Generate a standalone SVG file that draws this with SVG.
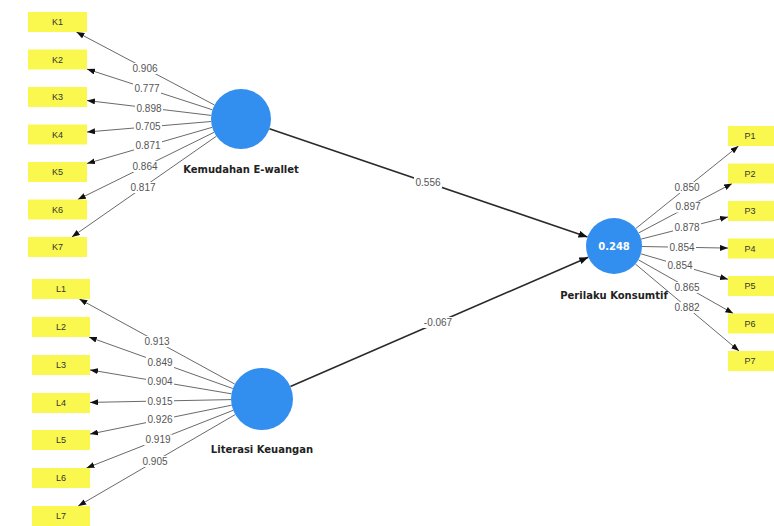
<svg xmlns="http://www.w3.org/2000/svg" width="774" height="526" viewBox="0 0 774 526">
<defs>
<marker id="ah" viewBox="0 0 8 6" refX="8" refY="3" markerWidth="8" markerHeight="6" markerUnits="userSpaceOnUse" orient="auto">
<path d="M0,0 L8,3 L0,6 Z" fill="#111"/>
</marker>
<marker id="ah2" viewBox="0 0 9 7" refX="9" refY="3.5" markerWidth="9" markerHeight="7" markerUnits="userSpaceOnUse" orient="auto">
<path d="M0,0 L9,3.5 L0,7 Z" fill="#111"/>
</marker>
</defs>
<style>
.ind{fill:#FAF84E;}
.indt{font-family:"Liberation Sans",Arial,sans-serif;font-size:9px;fill:#333;text-anchor:middle;}
.lv{fill:#338FEF;}
.lvt{font-family:"DejaVu Sans",Verdana,sans-serif;font-size:10px;font-weight:bold;fill:#222;text-anchor:middle;}
.r2{font-family:"DejaVu Sans",Verdana,sans-serif;font-size:10px;font-weight:bold;fill:#fff;text-anchor:middle;}
.ld{stroke:#6a6a6a;stroke-width:1;fill:none;marker-end:url(#ah);}
.pc{stroke:#2a2a2a;stroke-width:1.6;fill:none;marker-end:url(#ah2);}
.bg{fill:#fff;}
.lt{font-family:"Liberation Sans",Arial,sans-serif;font-size:10px;fill:#555;text-anchor:middle;}
</style>
<rect width="774" height="526" fill="#fff"/>

<g id="connectors">
<line class="ld" x1="214.5" y1="105" x2="76.4" y2="32"/>
<line class="ld" x1="212.5" y1="109.8" x2="87" y2="69.1"/>
<line class="ld" x1="211.2" y1="115.4" x2="87" y2="100.5"/>
<line class="ld" x1="211.1" y1="121.5" x2="87" y2="132"/>
<line class="ld" x1="212.2" y1="127.3" x2="87" y2="163.5"/>
<line class="ld" x1="214.1" y1="132.3" x2="77.8" y2="199.5"/>
<line class="ld" x1="216.4" y1="136.2" x2="71.8" y2="237"/>

<line class="ld" x1="234.8" y1="384.1" x2="79.3" y2="299"/>
<line class="ld" x1="232.8" y1="388.5" x2="88.9" y2="337"/>
<line class="ld" x1="231.4" y1="393.8" x2="90" y2="369.9"/>
<line class="ld" x1="231" y1="399.6" x2="90" y2="402.4"/>
<line class="ld" x1="231.6" y1="405.2" x2="90" y2="434.1"/>
<line class="ld" x1="233.2" y1="410.3" x2="86.5" y2="468"/>
<line class="ld" x1="235.2" y1="414.6" x2="78.2" y2="506"/>

<line class="ld" x1="635.8" y1="228.5" x2="738.5" y2="146"/>
<line class="ld" x1="638.7" y1="232.9" x2="732.1" y2="183.5"/>
<line class="ld" x1="641.1" y1="239.1" x2="728" y2="216.9"/>
<line class="ld" x1="642" y1="246.5" x2="728" y2="248.1"/>
<line class="ld" x1="640.9" y1="253.8" x2="728" y2="279.3"/>
<line class="ld" x1="638.4" y1="259.8" x2="733.3" y2="313.5"/>
<line class="ld" x1="635.4" y1="264" x2="739.1" y2="351"/>

<line class="pc" x1="269.4" y1="128.7" x2="587.5" y2="237"/>
<line class="pc" x1="290.4" y1="386.6" x2="588.3" y2="257.2"/>

<g id="loading-labels">
<rect class="bg" x="131" y="63" width="28" height="11"/><text class="lt" x="145" y="71.8">0.906</text>
<rect class="bg" x="133" y="83" width="28" height="11"/><text class="lt" x="147" y="92">0.777</text>
<rect class="bg" x="135" y="102.5" width="28" height="11"/><text class="lt" x="149" y="111.5">0.898</text>
<rect class="bg" x="134" y="121.5" width="28" height="11"/><text class="lt" x="148" y="130.4">0.705</text>
<rect class="bg" x="134" y="140.5" width="28" height="11"/><text class="lt" x="148" y="149.4">0.871</text>
<rect class="bg" x="131" y="161" width="28" height="11"/><text class="lt" x="145" y="169.8">0.864</text>
<rect class="bg" x="129" y="182" width="28" height="11"/><text class="lt" x="143" y="190.9">0.817</text>

<rect class="bg" x="143" y="336" width="28" height="11"/><text class="lt" x="157" y="345">0.913</text>
<rect class="bg" x="146" y="357" width="28" height="11"/><text class="lt" x="160" y="366">0.849</text>
<rect class="bg" x="146" y="376" width="28" height="11"/><text class="lt" x="160" y="385.2">0.904</text>
<rect class="bg" x="146" y="395.5" width="28" height="11"/><text class="lt" x="160" y="404.5">0.915</text>
<rect class="bg" x="146" y="414.5" width="28" height="11"/><text class="lt" x="160" y="423.3">0.926</text>
<rect class="bg" x="144" y="434.5" width="28" height="11"/><text class="lt" x="158" y="443.4">0.919</text>
<rect class="bg" x="141" y="456" width="28" height="11"/><text class="lt" x="155" y="464.8">0.905</text>

<rect class="bg" x="673" y="182" width="28" height="11"/><text class="lt" x="687" y="190.9">0.850</text>
<rect class="bg" x="674" y="201.5" width="28" height="11"/><text class="lt" x="688" y="210.3">0.897</text>
<rect class="bg" x="673" y="222" width="28" height="11"/><text class="lt" x="687" y="230.8">0.878</text>
<rect class="bg" x="668" y="242" width="28" height="11"/><text class="lt" x="682" y="250.7">0.854</text>
<rect class="bg" x="666" y="260" width="28" height="11"/><text class="lt" x="680" y="268.8">0.854</text>
<rect class="bg" x="673" y="282" width="28" height="11"/><text class="lt" x="687" y="290.8">0.865</text>
<rect class="bg" x="673" y="302" width="28" height="11"/><text class="lt" x="687" y="310.8">0.882</text>

<rect class="bg" x="414" y="177" width="28" height="11"/><text class="lt" x="428" y="186.2">0.556</text>
<rect class="bg" x="422" y="317" width="32" height="11"/><text class="lt" x="438" y="326">-0.067</text>
</g>
</g>

<g id="K1"><rect class="ind" x="28" y="12" width="59" height="20"/><text class="indt" x="57.5" y="25.2">K1</text></g>
<g id="K2"><rect class="ind" x="28" y="49.5" width="59" height="20"/><text class="indt" x="57.5" y="62.7">K2</text></g>
<g id="K3"><rect class="ind" x="28" y="87" width="59" height="20"/><text class="indt" x="57.5" y="100.2">K3</text></g>
<g id="K4"><rect class="ind" x="28" y="124.5" width="59" height="20"/><text class="indt" x="57.5" y="137.7">K4</text></g>
<g id="K5"><rect class="ind" x="28" y="162" width="59" height="20"/><text class="indt" x="57.5" y="175.2">K5</text></g>
<g id="K6"><rect class="ind" x="28" y="199.5" width="59" height="20"/><text class="indt" x="57.5" y="212.7">K6</text></g>
<g id="K7"><rect class="ind" x="28" y="237" width="59" height="20"/><text class="indt" x="57.5" y="250.2">K7</text></g>

<g id="L1"><rect class="ind" x="32" y="279" width="58" height="20"/><text class="indt" x="61" y="292.2">L1</text></g>
<g id="L2"><rect class="ind" x="32" y="317" width="58" height="20"/><text class="indt" x="61" y="330.2">L2</text></g>
<g id="L3"><rect class="ind" x="32" y="355" width="58" height="20"/><text class="indt" x="61" y="368.2">L3</text></g>
<g id="L4"><rect class="ind" x="32" y="393" width="58" height="20"/><text class="indt" x="61" y="406.2">L4</text></g>
<g id="L5"><rect class="ind" x="32" y="430" width="58" height="20"/><text class="indt" x="61" y="443.2">L5</text></g>
<g id="L6"><rect class="ind" x="32" y="468" width="58" height="20"/><text class="indt" x="61" y="481.2">L6</text></g>
<g id="L7"><rect class="ind" x="32" y="506" width="58" height="20"/><text class="indt" x="61" y="519.2">L7</text></g>

<g id="P1"><rect class="ind" x="728" y="126" width="46" height="20"/><text class="indt" x="750" y="139.2">P1</text></g>
<g id="P2"><rect class="ind" x="728" y="163.5" width="46" height="20"/><text class="indt" x="750" y="176.7">P2</text></g>
<g id="P3"><rect class="ind" x="728" y="201" width="46" height="20"/><text class="indt" x="750" y="214.2">P3</text></g>
<g id="P4"><rect class="ind" x="728" y="238.5" width="46" height="20"/><text class="indt" x="750" y="251.7">P4</text></g>
<g id="P5"><rect class="ind" x="728" y="276" width="46" height="20"/><text class="indt" x="750" y="289.2">P5</text></g>
<g id="P6"><rect class="ind" x="728" y="313.5" width="46" height="20"/><text class="indt" x="750" y="326.7">P6</text></g>
<g id="P7"><rect class="ind" x="728" y="351" width="46" height="20"/><text class="indt" x="750" y="364.2">P7</text></g>

<g id="Kemudahan_E-wallet"><circle class="lv" cx="241" cy="119" r="30"/><text class="lvt" x="241" y="172.5">Kemudahan E-wallet</text></g>
<g id="Literasi_Keuangan"><circle class="lv" cx="262" cy="399" r="31"/><text class="lvt" x="262" y="452.5">Literasi Keuangan</text></g>
<g id="Perilaku_Konsumtif"><circle class="lv" cx="614" cy="246" r="28"/><text class="r2" x="614" y="249.5">0.248</text><text class="lvt" x="614" y="298.5">Perilaku Konsumtif</text></g>
</svg>
